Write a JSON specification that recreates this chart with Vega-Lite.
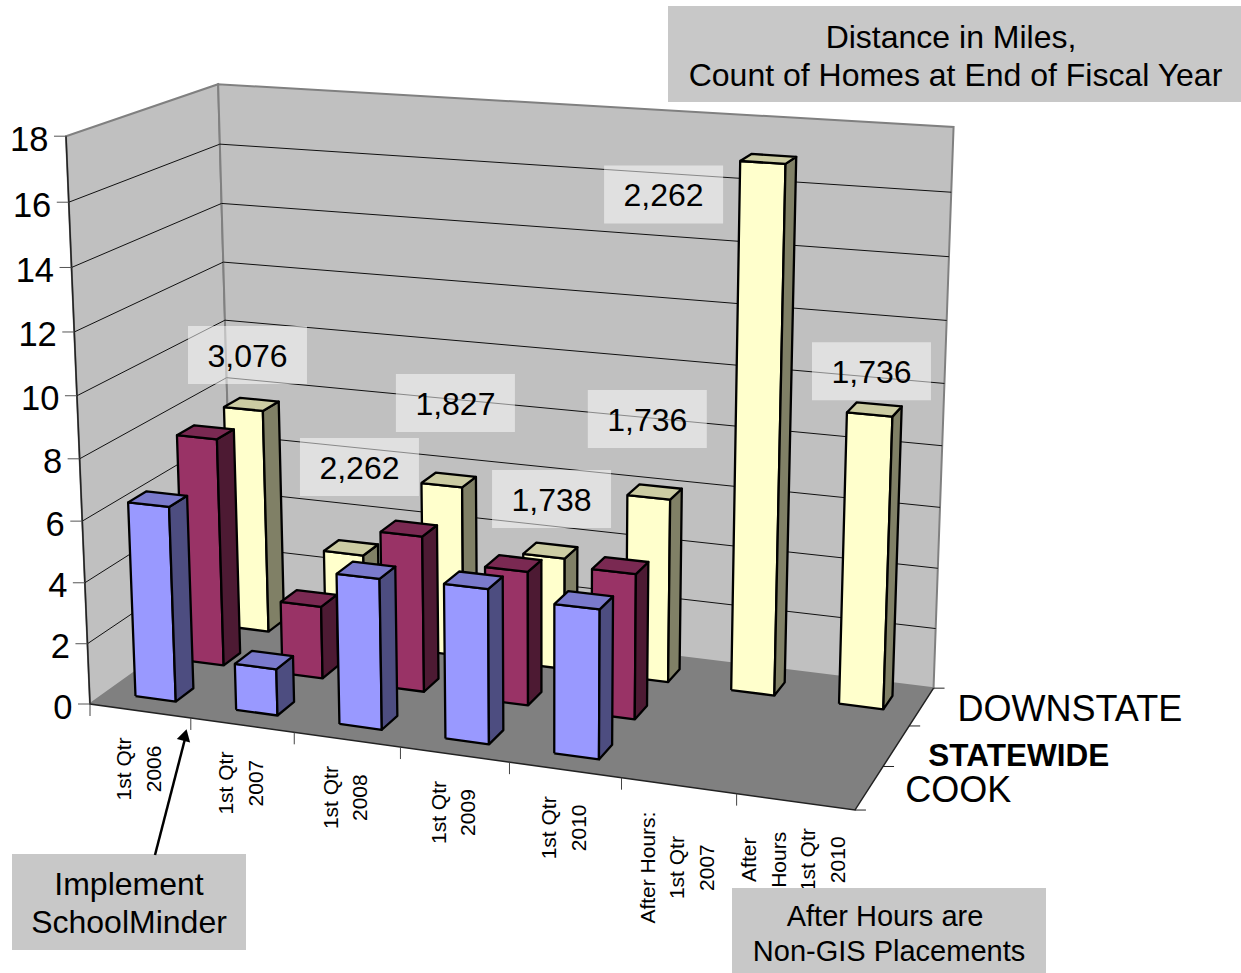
{
  "$schema": "https://vega.github.io/schema/vega-lite/v6.json",
  "width": 1241,
  "height": 973,
  "padding": 0,
  "autosize": "none",
  "background": "white",
  "config": {"view": {"stroke": null}, "text": {"font": "Liberation Sans", "color": "black"}},
  "datasets": {
    "bars": [
      {"quarter": "1st Qtr|2006", "region": "DOWNSTATE", "miles": 7.67, "homes": 3076},
      {"quarter": "1st Qtr|2007", "region": "DOWNSTATE", "miles": 3.07, "homes": 2262},
      {"quarter": "1st Qtr|2008", "region": "DOWNSTATE", "miles": 5.77, "homes": 1827},
      {"quarter": "1st Qtr|2009", "region": "DOWNSTATE", "miles": 3.75, "homes": 1738},
      {"quarter": "1st Qtr|2010", "region": "DOWNSTATE", "miles": 6.09, "homes": 1736},
      {"quarter": "After Hours:|1st Qtr|2007", "region": "DOWNSTATE", "miles": 17.0, "homes": 2262},
      {"quarter": "After|Hours|1st Qtr|2010", "region": "DOWNSTATE", "miles": 9.45, "homes": 1736},
      {"quarter": "1st Qtr|2006", "region": "STATEWIDE", "miles": 7.63},
      {"quarter": "1st Qtr|2007", "region": "STATEWIDE", "miles": 2.42},
      {"quarter": "1st Qtr|2008", "region": "STATEWIDE", "miles": 5.15},
      {"quarter": "1st Qtr|2009", "region": "STATEWIDE", "miles": 4.39},
      {"quarter": "1st Qtr|2010", "region": "STATEWIDE", "miles": 4.72},
      {"quarter": "1st Qtr|2006", "region": "COOK", "miles": 6.39},
      {"quarter": "1st Qtr|2007", "region": "COOK", "miles": 1.52},
      {"quarter": "1st Qtr|2008", "region": "COOK", "miles": 4.86},
      {"quarter": "1st Qtr|2009", "region": "COOK", "miles": 4.94},
      {"quarter": "1st Qtr|2010", "region": "COOK", "miles": 4.72}
    ],
    "quarters": [
      {"quarter": "1st Qtr|2006", "slot": 0},
      {"quarter": "1st Qtr|2007", "slot": 1},
      {"quarter": "1st Qtr|2008", "slot": 2},
      {"quarter": "1st Qtr|2009", "slot": 3},
      {"quarter": "1st Qtr|2010", "slot": 4},
      {"quarter": "After Hours:|1st Qtr|2007", "slot": 5},
      {"quarter": "After|Hours|1st Qtr|2010", "slot": 6}
    ],
    "regions": [
      {"region": "COOK", "slot": 0},
      {"region": "STATEWIDE", "slot": 1},
      {"region": "DOWNSTATE", "slot": 2}
    ],
    "milesTicks": [
      {"miles": 0}, {"miles": 2}, {"miles": 4}, {"miles": 6}, {"miles": 8},
      {"miles": 10}, {"miles": 12}, {"miles": 14}, {"miles": 16}, {"miles": 18}
    ],
    "frame": [
      {"part": "left", "corner": 0, "q": 0, "s": 0, "m": 0},
      {"part": "left", "corner": 1, "q": 0, "s": 1, "m": 0},
      {"part": "left", "corner": 2, "q": 0, "s": 1, "m": 1},
      {"part": "left", "corner": 3, "q": 0, "s": 0, "m": 1},
      {"part": "left", "corner": 4, "q": 0, "s": 0, "m": 0},
      {"part": "back", "corner": 0, "q": 0, "s": 1, "m": 0},
      {"part": "back", "corner": 1, "q": 1, "s": 1, "m": 0},
      {"part": "back", "corner": 2, "q": 1, "s": 1, "m": 1},
      {"part": "back", "corner": 3, "q": 0, "s": 1, "m": 1},
      {"part": "back", "corner": 4, "q": 0, "s": 1, "m": 0},
      {"part": "floor", "corner": 0, "q": 0, "s": 0, "m": 0},
      {"part": "floor", "corner": 1, "q": 1, "s": 0, "m": 0},
      {"part": "floor", "corner": 2, "q": 1, "s": 1, "m": 0},
      {"part": "floor", "corner": 3, "q": 0, "s": 1, "m": 0},
      {"part": "floor", "corner": 4, "q": 0, "s": 0, "m": 0},
      {"part": "edge", "corner": 0, "q": 0, "s": 0, "m": 1},
      {"part": "edge", "corner": 1, "q": 0, "s": 0, "m": 0},
      {"part": "edge", "corner": 2, "q": 1, "s": 0, "m": 0},
      {"part": "edge", "corner": 3, "q": 1, "s": 1, "m": 0}
    ],
    "note": [{"note": "annotation"}]
  },
  "encoding": {
    "x": {"field": "px", "type": "quantitative", "scale": {"domain": [0, 1241], "nice": false, "zero": false}, "axis": null},
    "y": {"field": "py", "type": "quantitative", "scale": {"domain": [973, 0], "nice": false, "zero": false}, "axis": null}
  },
  "layer": [
    {
      "data": {"name": "frame"},
      "transform": [
        {"filter": "datum.part === 'left' || datum.part === 'back'"},
        {"calculate": "1 - 0.0893*datum.q + 0.102*datum.s - 0.0499*datum.m", "as": "w"},
        {"calculate": "(90 + 688.6*datum.q + 166.8*datum.s - 27.3*datum.m) / datum.w", "as": "px"},
        {"calculate": "(704 + 33.7*datum.q - 40.8*datum.s - 574.6*datum.m) / datum.w", "as": "py"}
      ],
      "mark": {"type": "line", "fill": "#C0C0C0", "stroke": "#808080", "strokeWidth": 2, "strokeJoin": "miter"},
      "encoding": {"detail": {"field": "part"}, "order": {"field": "corner", "type": "quantitative"}}
    },
    {
      "data": {"name": "milesTicks"},
      "transform": [
        {"filter": "datum.miles > 0 && datum.miles < 18"},
        {"calculate": "[0,1,2]", "as": "corner"},
        {"flatten": ["corner"]},
        {"calculate": "[0,0,1][datum.corner]", "as": "q"},
        {"calculate": "[0,1,1][datum.corner]", "as": "s"},
        {"calculate": "datum.miles/18", "as": "m"},
        {"calculate": "1 - 0.0893*datum.q + 0.102*datum.s - 0.0499*datum.m", "as": "w"},
        {"calculate": "(90 + 688.6*datum.q + 166.8*datum.s - 27.3*datum.m) / datum.w", "as": "px"},
        {"calculate": "(704 + 33.7*datum.q - 40.8*datum.s - 574.6*datum.m) / datum.w", "as": "py"}
      ],
      "mark": {"type": "line", "stroke": "#111111", "strokeWidth": 1},
      "encoding": {"detail": {"field": "miles"}, "order": {"field": "corner", "type": "quantitative"}}
    },
    {
      "data": {"name": "frame"},
      "transform": [
        {"filter": "datum.part === 'floor'"},
        {"calculate": "1 - 0.0893*datum.q + 0.102*datum.s - 0.0499*datum.m", "as": "w"},
        {"calculate": "(90 + 688.6*datum.q + 166.8*datum.s - 27.3*datum.m) / datum.w", "as": "px"},
        {"calculate": "(704 + 33.7*datum.q - 40.8*datum.s - 574.6*datum.m) / datum.w", "as": "py"}
      ],
      "mark": {"type": "line", "fill": "#808080", "stroke": null},
      "encoding": {"order": {"field": "corner", "type": "quantitative"}}
    },
    {
      "data": {"name": "frame"},
      "transform": [
        {"filter": "datum.part === 'edge'"},
        {"calculate": "1 - 0.0893*datum.q + 0.102*datum.s - 0.0499*datum.m", "as": "w"},
        {"calculate": "(90 + 688.6*datum.q + 166.8*datum.s - 27.3*datum.m) / datum.w", "as": "px"},
        {"calculate": "(704 + 33.7*datum.q - 40.8*datum.s - 574.6*datum.m) / datum.w", "as": "py"}
      ],
      "mark": {"type": "line", "stroke": "#222222", "strokeWidth": 1.5},
      "encoding": {"order": {"field": "corner", "type": "quantitative"}}
    },
    {
      "data": {"name": "milesTicks"},
      "transform": [
        {"calculate": "[0,1]", "as": "end"},
        {"flatten": ["end"]},
        {"calculate": "datum.miles/18", "as": "m"},
        {"calculate": "1 - 0.0499*datum.m", "as": "w"},
        {"calculate": "(90 - 27.3*datum.m) / datum.w - 12*datum.end", "as": "px"},
        {"calculate": "(704 - 574.6*datum.m) / datum.w", "as": "py"}
      ],
      "mark": {"type": "line", "stroke": "#555555", "strokeWidth": 1},
      "encoding": {"detail": {"field": "miles"}}
    },
    {
      "data": {"name": "milesTicks"},
      "transform": [
        {"calculate": "datum.miles/18", "as": "m"},
        {"calculate": "1 - 0.0499*datum.m", "as": "w"},
        {"calculate": "(90 - 27.3*datum.m) / datum.w - 17.5", "as": "px"},
        {"calculate": "(704 - 574.6*datum.m) / datum.w + 4.5", "as": "py"}
      ],
      "mark": {"type": "text", "fontSize": 34.5, "align": "right", "baseline": "middle"},
      "encoding": {"text": {"field": "miles", "type": "quantitative"}}
    },
    {
      "data": {"name": "quarters"},
      "transform": [
        {"calculate": "[0,1]", "as": "end"},
        {"flatten": ["end"]},
        {"calculate": "datum.slot/7", "as": "q"},
        {"calculate": "1 - 0.0893*datum.q", "as": "w"},
        {"calculate": "(90 + 688.6*datum.q) / datum.w", "as": "px"},
        {"calculate": "(704 + 33.7*datum.q) / datum.w + 12*datum.end", "as": "py"}
      ],
      "mark": {"type": "line", "stroke": "#444444", "strokeWidth": 1},
      "encoding": {"detail": {"field": "slot"}}
    },
    {
      "data": {"values": [{"tick": 0}, {"tick": 1}, {"tick": 2}, {"tick": 3}]},
      "transform": [
        {"calculate": "[0,1]", "as": "end"},
        {"flatten": ["end"]},
        {"calculate": "datum.tick/3", "as": "s"},
        {"calculate": "0.9107 + 0.102*datum.s", "as": "w"},
        {"calculate": "(778.6 + 166.8*datum.s) / datum.w + 11*datum.end", "as": "px"},
        {"calculate": "(737.7 - 40.8*datum.s) / datum.w", "as": "py"}
      ],
      "mark": {"type": "line", "stroke": "#222222", "strokeWidth": 1},
      "encoding": {"detail": {"field": "tick"}}
    },
    {
      "data": {"name": "bars"},
      "transform": [
        {"calculate": "indexof(['1st Qtr|2006','1st Qtr|2007','1st Qtr|2008','1st Qtr|2009','1st Qtr|2010','After Hours:|1st Qtr|2007','After|Hours|1st Qtr|2010'], datum.quarter)", "as": "qi"},
        {"calculate": "indexof(['COOK','STATEWIDE','DOWNSTATE'], datum.region)", "as": "ri"},
        {"calculate": "['front','side','top']", "as": "face"},
        {"flatten": ["face"]},
        {"calculate": "[0,1,2,3,4]", "as": "corner"},
        {"flatten": ["corner"]},
        {"calculate": "{front:[-1,1,1,-1,-1],side:[1,1,1,1,1],top:[-1,1,1,-1,-1]}[datum.face][datum.corner]", "as": "su"},
        {"calculate": "{front:[-1,-1,-1,-1,-1],side:[-1,1,1,-1,-1],top:[-1,-1,1,1,-1]}[datum.face][datum.corner]", "as": "sd"},
        {"calculate": "{front:[0,0,1,1,0],side:[0,0,1,1,0],top:[1,1,1,1,1]}[datum.face][datum.corner]", "as": "sh"},
        {"calculate": "(datum.qi+0.5)/7 - 0.001 + 0.0288*datum.su", "as": "q"},
        {"calculate": "(datum.ri+0.5)/3 + 0.06*datum.sd", "as": "s"},
        {"calculate": "datum.sh*datum.miles/18", "as": "m"},
        {"calculate": "1 - 0.0893*datum.q + 0.102*datum.s - 0.0499*datum.m", "as": "w"},
        {"calculate": "(90 + 688.6*datum.q + 166.8*datum.s - 27.3*datum.m) / datum.w", "as": "px"},
        {"calculate": "(704 + 33.7*datum.q - 40.8*datum.s - 574.6*datum.m) / datum.w", "as": "py"},
        {"calculate": "datum.region + ' ' + datum.face", "as": "shade"},
        {"calculate": "datum.quarter + ' ' + datum.shade", "as": "faceId"}
      ],
      "mark": {"type": "line", "stroke": "black", "strokeWidth": 2.3, "strokeJoin": "round"},
      "encoding": {
        "detail": {"field": "faceId"},
        "order": {"field": "corner", "type": "quantitative"},
        "fill": {
          "field": "shade",
          "type": "nominal",
          "legend": null,
          "scale": {
            "domain": ["COOK front", "COOK side", "COOK top", "STATEWIDE front", "STATEWIDE side", "STATEWIDE top", "DOWNSTATE front", "DOWNSTATE side", "DOWNSTATE top"],
            "range": ["#9999FF", "#4D4D80", "#7A7ACC", "#993366", "#4D1A33", "#7A2952", "#FFFFCC", "#808066", "#CCCCA3"]
          }
        }
      }
    },
    {
      "data": {"name": "quarters"},
      "transform": [
        {"calculate": "(datum.slot+0.5)/7", "as": "q"},
        {"calculate": "1 - 0.0893*datum.q", "as": "w"},
        {"calculate": "(90 + 688.6*datum.q) / datum.w - 15*(length(split(datum.quarter, '|')) - 1)", "as": "px"},
        {"calculate": "(704 + 33.7*datum.q) / datum.w + (datum.slot === 5 ? 82 : 58)", "as": "py"}
      ],
      "mark": {"type": "text", "fontSize": 21, "angle": 270, "align": "center", "baseline": "middle", "lineBreak": "|", "lineHeight": 29.5},
      "encoding": {"text": {"field": "quarter"}}
    },
    {
      "data": {"name": "regions"},
      "transform": [
        {"filter": "datum.slot !== 1"},
        {"calculate": "(datum.slot+0.5)/3", "as": "s"},
        {"calculate": "0.9107 + 0.102*datum.s", "as": "w"},
        {"calculate": "(778.6 + 166.8*datum.s) / datum.w + 36", "as": "px"},
        {"calculate": "(737.7 - 40.8*datum.s) / datum.w + 3.5", "as": "py"}
      ],
      "mark": {"type": "text", "fontSize": 36, "align": "left", "baseline": "middle"},
      "encoding": {"text": {"field": "region"}}
    },
    {
      "data": {"name": "regions"},
      "transform": [
        {"filter": "datum.slot === 1"},
        {"calculate": "(datum.slot+0.5)/3", "as": "s"},
        {"calculate": "0.9107 + 0.102*datum.s", "as": "w"},
        {"calculate": "(778.6 + 166.8*datum.s) / datum.w + 32", "as": "px"},
        {"calculate": "(737.7 - 40.8*datum.s) / datum.w + 11", "as": "py"}
      ],
      "mark": {"type": "text", "fontSize": 31.5, "fontWeight": "bold", "align": "left", "baseline": "middle"},
      "encoding": {"text": {"field": "region"}}
    },
    {
      "data": {"name": "bars"},
      "transform": [
        {"filter": "datum.region === 'DOWNSTATE'"},
        {"calculate": "indexof(['1st Qtr|2006','1st Qtr|2007','1st Qtr|2008','1st Qtr|2009','1st Qtr|2010','After Hours:|1st Qtr|2007','After|Hours|1st Qtr|2010'], datum.quarter)", "as": "qi"},
        {"calculate": "(datum.qi+0.5)/7", "as": "q"},
        {"calculate": "0.767", "as": "s"},
        {"calculate": "datum.miles/18", "as": "m"},
        {"calculate": "1 - 0.0893*datum.q + 0.102*datum.s - 0.0499*datum.m", "as": "w"},
        {"calculate": "(90 + 688.6*datum.q + 166.8*datum.s - 27.3*datum.m) / datum.w + [4.3,16,13.7,7.6,-1.5,-99.4,1.6][datum.qi]", "as": "cx"},
        {"calculate": "(704 + 33.7*datum.q - 40.8*datum.s - 574.6*datum.m) / datum.w + [-54.6,-87,-82.8,-58,-79,31.6,-44][datum.qi]", "as": "cy"},
        {"calculate": "datum.cx - 59.5", "as": "px"},
        {"calculate": "datum.cx + 59.5", "as": "boxRight"},
        {"calculate": "datum.cy - 29", "as": "py"},
        {"calculate": "datum.cy + 29", "as": "boxBottom"}
      ],
      "layer": [
        {
          "mark": {"type": "rect", "fill": "white", "opacity": 0.5},
          "encoding": {"x2": {"field": "boxRight"}, "y2": {"field": "boxBottom"}}
        },
        {
          "mark": {"type": "text", "fontSize": 32, "align": "center", "baseline": "middle"},
          "encoding": {
            "x": {"field": "cx", "type": "quantitative"},
            "y": {"field": "textY", "type": "quantitative"},
            "text": {"field": "homes", "type": "quantitative", "format": ","}
          },
          "transform": [{"calculate": "datum.cy + 2", "as": "textY"}]
        }
      ]
    },
    {
      "data": {"name": "note"},
      "transform": [
        {"calculate": "668", "as": "px"},
        {"calculate": "1241", "as": "boxRight"},
        {"calculate": "6", "as": "py"},
        {"calculate": "102", "as": "boxBottom"}
      ],
      "mark": {"type": "rect", "fill": "#C8C8C8"},
      "encoding": {"x2": {"field": "boxRight"}, "y2": {"field": "boxBottom"}}
    },
    {
      "data": {"name": "note"},
      "transform": [
        {"calculate": "12", "as": "px"},
        {"calculate": "246", "as": "boxRight"},
        {"calculate": "854", "as": "py"},
        {"calculate": "950", "as": "boxBottom"}
      ],
      "mark": {"type": "rect", "fill": "#C8C8C8"},
      "encoding": {"x2": {"field": "boxRight"}, "y2": {"field": "boxBottom"}}
    },
    {
      "data": {"name": "note"},
      "transform": [
        {"calculate": "732", "as": "px"},
        {"calculate": "1046", "as": "boxRight"},
        {"calculate": "888", "as": "py"},
        {"calculate": "973", "as": "boxBottom"}
      ],
      "mark": {"type": "rect", "fill": "#C8C8C8"},
      "encoding": {"x2": {"field": "boxRight"}, "y2": {"field": "boxBottom"}}
    },
    {
      "data": {"name": "note"},
      "transform": [{"calculate": "951", "as": "px"}, {"calculate": "38", "as": "py"}],
      "mark": {"type": "text", "fontSize": 32, "align": "center", "baseline": "middle", "text": "Distance in Miles,"}
    },
    {
      "data": {"name": "note"},
      "transform": [{"calculate": "955.5", "as": "px"}, {"calculate": "76", "as": "py"}],
      "mark": {"type": "text", "fontSize": 32, "align": "center", "baseline": "middle", "text": "Count of Homes at End of Fiscal Year"}
    },
    {
      "data": {"name": "note"},
      "transform": [{"calculate": "129", "as": "px"}, {"calculate": "885", "as": "py"}],
      "mark": {"type": "text", "fontSize": 32, "align": "center", "baseline": "middle", "text": "Implement"}
    },
    {
      "data": {"name": "note"},
      "transform": [{"calculate": "129", "as": "px"}, {"calculate": "923", "as": "py"}],
      "mark": {"type": "text", "fontSize": 32, "align": "center", "baseline": "middle", "text": "SchoolMinder"}
    },
    {
      "data": {"name": "note"},
      "transform": [{"calculate": "885", "as": "px"}, {"calculate": "917", "as": "py"}],
      "mark": {"type": "text", "fontSize": 29, "align": "center", "baseline": "middle", "text": "After Hours are"}
    },
    {
      "data": {"name": "note"},
      "transform": [{"calculate": "889", "as": "px"}, {"calculate": "952", "as": "py"}],
      "mark": {"type": "text", "fontSize": 29, "align": "center", "baseline": "middle", "text": "Non-GIS Placements"}
    },
    {
      "data": {"name": "note"},
      "transform": [
        {"calculate": "155", "as": "px"},
        {"calculate": "855", "as": "py"},
        {"calculate": "186", "as": "arrowX"},
        {"calculate": "735", "as": "arrowY"}
      ],
      "mark": {"type": "rule", "stroke": "black", "strokeWidth": 2.5},
      "encoding": {"x2": {"field": "arrowX"}, "y2": {"field": "arrowY"}}
    },
    {
      "data": {"name": "note"},
      "transform": [{"calculate": "185", "as": "px"}, {"calculate": "735", "as": "py"}],
      "mark": {"type": "point", "shape": "triangle-up", "filled": true, "color": "black", "opacity": 1, "size": 190, "angle": 15}
    }
  ]
}
